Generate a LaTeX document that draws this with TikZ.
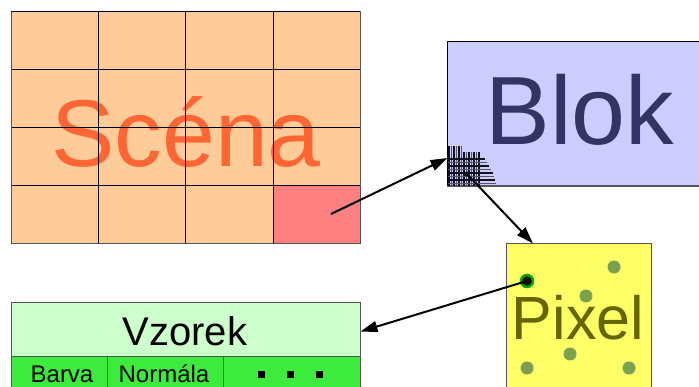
\documentclass[tikz,border=0pt]{standalone}
\usepackage{fontspec}
\setmainfont{Liberation Sans}
\usetikzlibrary{arrows.meta}
\definecolor{scenefill}{HTML}{FFCC99}
\definecolor{scenecell}{HTML}{FF8080}
\definecolor{scenetext}{HTML}{FF6633}
\definecolor{blokfill}{HTML}{CCCCFF}
\definecolor{bloktext}{HTML}{333366}
\definecolor{pixfill}{HTML}{FFFF66}
\definecolor{pixtext}{HTML}{666600}
\definecolor{pixdot}{HTML}{7AA050}
\definecolor{pixring}{HTML}{00AA00}
\definecolor{vzfill}{HTML}{CCFFCC}
\definecolor{vzrow}{HTML}{3DEB3D}
\definecolor{edge}{HTML}{555555}
\definecolor{hatchdark}{HTML}{111122}
\definecolor{hatchgray}{HTML}{555566}
\tikzset{
  boxnode/.style={draw=#1, line width=1pt, inner sep=0pt, outer sep=0pt, anchor=north west},
  bigtext/.style={inner sep=0pt, anchor=base},
  conn/.style={line width=2pt, -{Triangle[length=17pt,width=11pt]}},
  hatchd/.style={line width=1.2pt, draw=hatchdark},
  hatchg/.style={line width=1.2pt, draw=hatchgray},
  greendot/.style={circle, fill=pixdot, minimum size=13pt, inner sep=0pt},
  sqdot/.style={fill=black, minimum size=7pt, inner sep=0pt}
}
\begin{document}
\begin{tikzpicture}[x=1pt,y=-1pt]
\useasboundingbox (0,0) rectangle (699,387);
\clip (0,0) rectangle (699,387);
% ---------- Scena ----------
\node[boxnode=edge, fill=scenefill, minimum width=349pt, minimum height=232pt] (scena) at (11,12) {};
\fill[scenecell] (273,186) rectangle (360,244);
\node[bigtext, text=scenetext, font=\fontsize{95}{95}\selectfont] (scenatxt) at (186,167) {Scéna};
\foreach \x in {98,185,273} \draw[black, line width=1pt] (\x,12) -- (\x,244);
\foreach \y in {70,128,186} \draw[black, line width=1pt] (11,\y) -- (360,\y);
\draw[edge, line width=1pt] (11,12) rectangle (360,244);
\draw[black, line width=1pt] (11,12) -- (360,12);
% ---------- Blok ----------
\node[boxnode=black, fill=blokfill, minimum width=280pt, minimum height=144pt] (blok) at (447,42) {};
\draw[edge, line width=1.5pt] (447,186) -- (699,186);
\node[bigtext, text=bloktext, font=\fontsize{97}{97}\selectfont] (bloktxt) at (580,145) {Blok};
% hatch
\foreach \x [count=\i] in {449,451.5,454,456.5,459,461.5}
  {\ifodd\i \draw[hatchd] (\x,146) -- (\x,186); \else \draw[hatchg] (\x,146) -- (\x,186); \fi}
\foreach \x [count=\i] in {464,466.5,469,471.5,474,476.5,479}
  {\ifodd\i \draw[hatchd] (\x,152) -- (\x,186); \else \draw[hatchg] (\x,152) -- (\x,186); \fi}
\foreach \y/\e [count=\i] in {159/485,162.5/487,166/489,169.5/491,173/493,176.5/494,180/495,183.5/496}
  {\ifodd\i \draw[hatchd] (448,\y) -- (\e,\y); \else \draw[hatchg] (448,\y) -- (\e,\y); \fi}
% ---------- Pixel ----------
\node[boxnode=edge, fill=pixfill, minimum width=145pt, minimum height=160pt] (pixel) at (506,244) {};
\node[greendot] (d1) at (614,267) {};
\node[greendot] (d2) at (586,296) {};
\node[greendot] (d3) at (570,354) {};
\node[greendot] (d4) at (527,368) {};
\node[greendot] (d5) at (629,368) {};
\node[bigtext, text=pixtext, font=\fontsize{61}{61}\selectfont] (pixeltxt) at (578,340) {Pixel};
\node[circle, fill=black, draw=pixring, line width=2.5pt, minimum size=12pt, inner sep=0pt] (sel) at (527,281) {};
% ---------- Vzorek ----------
\node[boxnode=edge, fill=vzfill, minimum width=349pt, minimum height=54pt] (vzorek) at (11,303) {};
\node[boxnode=edge, fill=vzrow, minimum width=349pt, minimum height=40pt] (row) at (11,357) {};
\draw[edge, line width=1pt] (107,357) -- (107,387);
\draw[edge, line width=1pt] (223,357) -- (223,387);
\node[bigtext, font=\fontsize{40}{40}\selectfont] (vztxt) at (185,345) {Vzorek};
\node[bigtext, font=\fontsize{24}{24}\selectfont] (barva) at (62,382) {Barva};
\node[bigtext, font=\fontsize{24}{24}\selectfont] (normala) at (164,382) {Normála};
\node[sqdot] (q1) at (261,374.5) {};
\node[sqdot] (q2) at (290,374.5) {};
\node[sqdot] (q3) at (319,374.5) {};
% ---------- connectors ----------
\coordinate (a1s) at (331,214);
\coordinate (a1e) at (447.5,158);
\coordinate (a2s) at (467,174);
\coordinate (a2e) at (533,243.5);
\coordinate (a3e) at (360.5,331.5);
\fill (a2s) circle (2.5pt);
\draw[conn] (a1s) -- (a1e);
\draw[conn] (a2s) -- (a2e);
\draw[conn] (sel.center) -- (a3e);
\end{tikzpicture}
\end{document}
